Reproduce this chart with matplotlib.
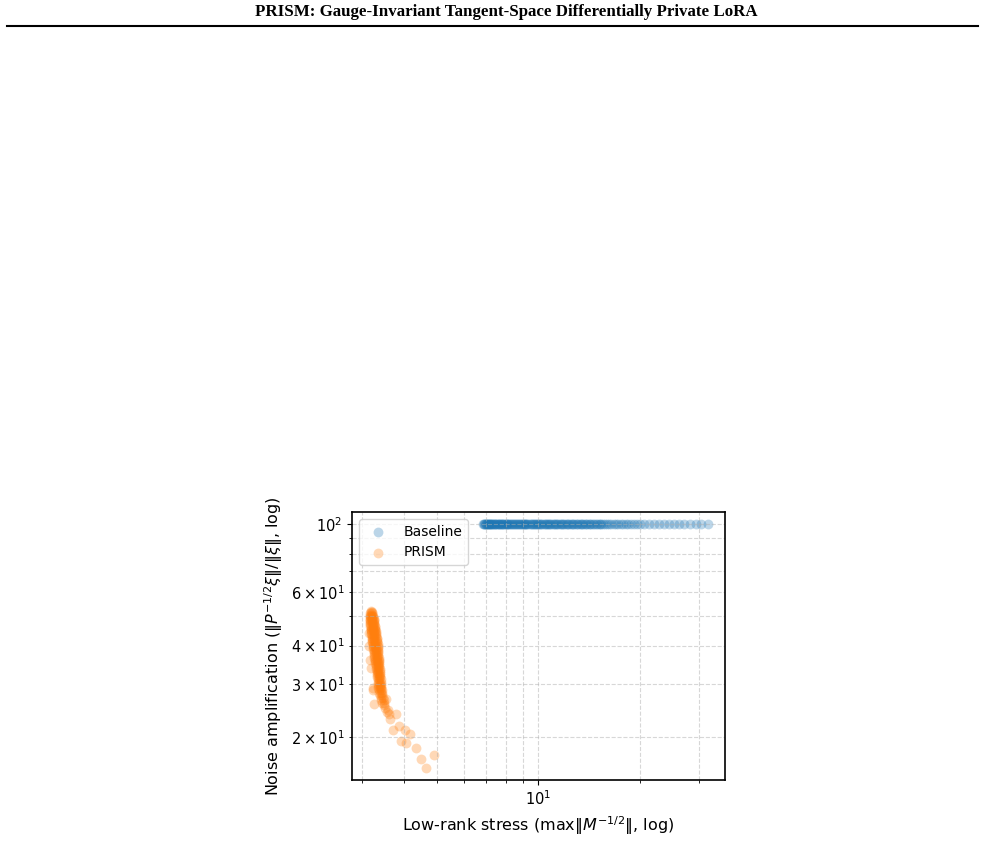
import matplotlib
matplotlib.use("Agg")
import matplotlib.pyplot as plt

# ---------------- data ----------------
baseline_x = [
    6.85, 6.88, 6.91, 6.94, 6.97, 7.00, 7.03, 7.06, 7.09, 7.12, 7.15, 7.18, 7.21, 7.24,
    7.27, 7.30, 7.34, 7.38, 7.42, 7.46, 7.50, 7.54, 7.58, 7.62, 7.66, 7.70, 7.74, 7.78,
    7.82, 7.86, 7.90, 7.95, 8.00, 8.05, 8.10, 8.15, 8.20, 8.25, 8.30, 8.35, 8.40, 8.45,
    8.50, 8.56, 8.62, 8.68, 8.74, 8.80, 8.86, 8.92, 8.98, 9.04, 9.10, 9.16, 9.22, 9.28,
    9.35, 9.42, 9.49, 9.56, 9.63, 9.70, 9.77, 9.84, 9.91, 9.98, 10.05, 10.13, 10.21,
    10.29, 10.37, 10.45, 10.53, 10.61, 10.69, 10.77, 10.85, 10.94, 11.03, 11.12, 11.21,
    11.30, 11.39, 11.48, 11.57, 11.66, 11.76, 11.86, 11.96, 12.06, 12.16, 12.26, 12.36,
    12.47, 12.58, 12.69, 12.80, 12.91, 13.02, 13.14, 13.26, 13.38, 13.50, 13.62, 13.74,
    13.87, 14.00, 14.13, 14.26, 14.39, 14.53, 14.67, 14.81, 14.95, 15.10, 15.25, 15.40,
    15.60, 15.80, 16.00, 16.25, 16.50, 16.75, 17.00, 17.30, 17.60, 17.90, 18.20, 18.50,
    18.85, 19.20, 19.60, 20.10, 20.65, 21.36, 22.10, 22.87, 23.66, 24.48, 25.33, 26.21,
    27.12, 28.25, 29.43, 30.45, 31.94,
]
baseline_y = [100.0] * len(baseline_x)

prism_x = [
    3.19,
    3.18, 3.21,
    3.17, 3.20,
    3.17, 3.21,
    3.16, 3.20, 3.23,
    3.16, 3.19, 3.23,
    3.16, 3.20, 3.24,
    3.16, 3.20, 3.24,
    3.17, 3.21, 3.25,
    3.17, 3.21, 3.25,
    3.17, 3.22, 3.26,
    3.17, 3.22, 3.27,
    3.18, 3.23, 3.27,
    3.18, 3.23, 3.28,
    3.18, 3.23, 3.28,
    3.19, 3.24, 3.29,
    3.19, 3.24, 3.29,
    3.19, 3.25, 3.30,
    3.20, 3.25, 3.30,
    3.20, 3.25, 3.31,
    3.20, 3.26, 3.31,
    3.21, 3.26, 3.32,
    3.21, 3.27, 3.32,
    3.22, 3.27, 3.33,
    3.22, 3.28, 3.33,
    3.23, 3.28, 3.33,
    3.23, 3.29, 3.34,
    3.24, 3.29, 3.34,
    3.24, 3.30, 3.35,
    3.25, 3.30, 3.35,
    3.26, 3.31, 3.35,
    3.26, 3.31, 3.36,
    3.27, 3.32, 3.36,
    3.28, 3.32, 3.36,
    3.28, 3.33, 3.37,
    3.29, 3.33, 3.37,
    3.30, 3.34, 3.37,
    3.30, 3.34, 3.38,
    3.31, 3.35, 3.38,
    3.31, 3.35, 3.39,
    3.32, 3.36, 3.39,
    3.32, 3.36, 3.39,
    3.33, 3.37, 3.40,
    3.33, 3.37, 3.40,
    3.34, 3.38, 3.41,
    3.35, 3.38, 3.41,
    3.35, 3.39, 3.42,
    3.36, 3.40, 3.43,
    3.37, 3.41, 3.44,
    3.39, 3.43,
    3.40, 3.45,
    3.42, 3.47,
    3.44, 3.49,
    3.47,
    3.50,
    3.16, 3.18, 3.22, 3.23, 3.25, 3.14, 3.15,
    3.53, 3.55, 3.78, 3.63, 3.85, 3.69, 4.03, 3.90, 4.16, 4.05,
    4.33, 4.49, 4.65, 4.91, 3.58, 3.60,
]
prism_y = [
    52.0,
    51.5, 51.5,
    51.0, 51.0,
    50.5, 50.5,
    50.0, 50.0, 50.0,
    49.5, 49.5, 49.5,
    49.0, 49.0, 49.0,
    48.5, 48.5, 48.5,
    48.0, 48.0, 48.0,
    47.5, 47.5, 47.5,
    47.0, 47.0, 47.0,
    46.5, 46.5, 46.5,
    46.0, 46.0, 46.0,
    45.5, 45.5, 45.5,
    45.0, 45.0, 45.0,
    44.5, 44.5, 44.5,
    44.0, 44.0, 44.0,
    43.5, 43.5, 43.5,
    43.0, 43.0, 43.0,
    42.5, 42.5, 42.5,
    42.0, 42.0, 42.0,
    41.5, 41.5, 41.5,
    41.0, 41.0, 41.0,
    40.5, 40.5, 40.5,
    40.0, 40.0, 40.0,
    39.5, 39.5, 39.5,
    39.0, 39.0, 39.0,
    38.5, 38.5, 38.5,
    38.0, 38.0, 38.0,
    37.5, 37.5, 37.5,
    37.0, 37.0, 37.0,
    36.5, 36.5, 36.5,
    36.0, 36.0, 36.0,
    35.5, 35.5, 35.5,
    35.0, 35.0, 35.0,
    34.5, 34.5, 34.5,
    34.0, 34.0, 34.0,
    33.5, 33.5, 33.5,
    33.0, 33.0, 33.0,
    32.5, 32.5, 32.5,
    32.0, 32.0, 32.0,
    31.5, 31.5, 31.5,
    31.0, 31.0, 31.0,
    30.5, 30.5, 30.5,
    30.0, 30.0, 30.0,
    29.5, 29.5, 29.5,
    29.0, 29.0, 29.0,
    28.5, 28.5, 28.5,
    28.0, 28.0, 28.0,
    27.5, 27.5,
    27.0, 27.0,
    26.5, 26.5,
    26.0, 26.0,
    25.5,
    25.0,
    36.0, 33.7, 29.0, 28.5, 25.8, 44.0, 40.0,
    26.8, 24.2, 23.9, 22.9, 21.8, 21.2, 21.2, 19.5, 20.5, 19.2,
    18.4, 17.0, 15.9, 17.5, 24.6, 23.8,
]

title_text = "PRISM: Gauge-Invariant Tangent-Space Differentially Private LoRA"
xlabel_text = r"Low-rank stress (max$\|M^{-1/2}\|$, log)"
ylabel_text = r"Noise amplification ($\|P^{-1/2}\xi\|/\|\xi\|$, log)"

# ---------------- figure ----------------
W, H = 985, 843
fig = plt.figure(figsize=(W / 100, H / 100), dpi=100)

fig.text(506 / W, 1 - 12 / H, title_text, ha="center", va="center",
         fontsize=12.2, fontweight="bold", family=["Liberation Serif", "DejaVu Serif"])
fig.add_artist(plt.Line2D([7 / W, 978 / W], [1 - 25.5 / H, 1 - 25.5 / H],
                          transform=fig.transFigure, color="black", lw=1.5))

left, right, top, bottom = 352, 725, 512, 780
ax = fig.add_axes([left / W, 1 - bottom / H, (right - left) / W, (bottom - top) / H])

ax.scatter(baseline_x, baseline_y, s=50, alpha=0.3, color="#1f77b4",
           linewidths=0, label="Baseline")
ax.scatter(prism_x, prism_y, s=50, alpha=0.3, color="#ff7f0e",
           linewidths=0, label="PRISM")

ax.set_xscale("log")
ax.set_yscale("log")
ax.grid(True, which="both", linestyle="--", color="#b0b0b0", alpha=0.5, linewidth=0.8)
ax.set_xlabel(xlabel_text, fontsize=11.5)
ax.set_ylabel(ylabel_text, fontsize=11.5)
ax.tick_params(which="both", labelsize=10.5)
ax.legend(loc="upper left", fontsize=10)
for sp in ax.spines.values():
    sp.set_linewidth(1.2)

fig.savefig("out.png", dpi=100)
